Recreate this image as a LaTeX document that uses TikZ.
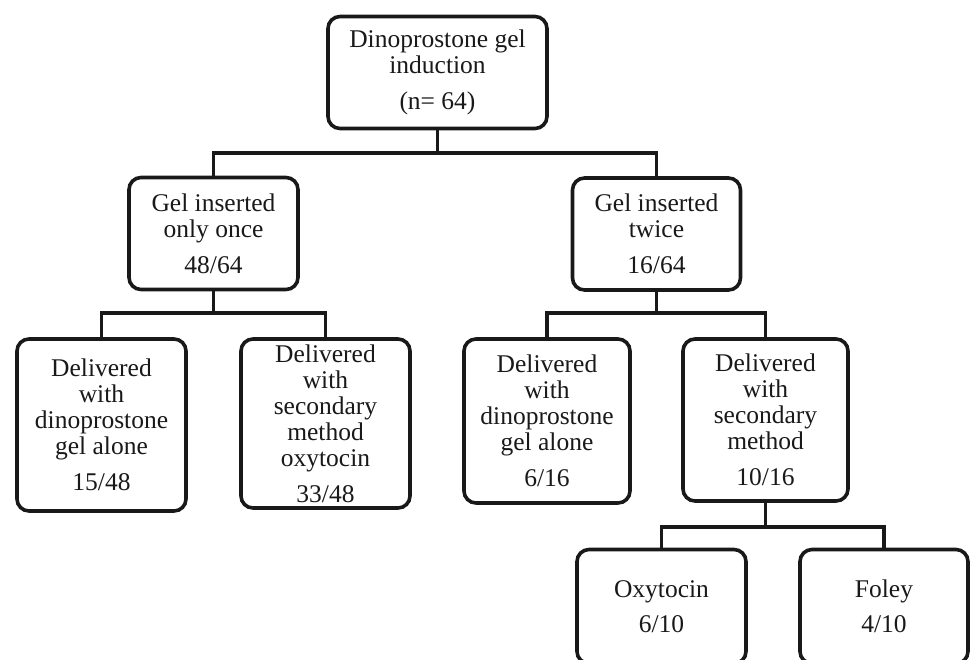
\documentclass[tikz,border=0pt]{standalone}
\usepackage{fontspec}
\setmainfont{Liberation Serif}
\begin{document}
\begin{tikzpicture}[x=1pt,y=-1pt,
  box/.style={draw=black!90, line width=3.6pt, rounded corners=12pt, align=center,
    inner sep=0pt, font=\fontsize{25.5}{26}\selectfont, text=black!90},
  conn/.style={draw=black!90, line width=3.2pt}]
\useasboundingbox (0,0) rectangle (975,659);
\clip (0,0) rectangle (975,659);
\node[box, minimum width=219pt, minimum height=112pt] (root) at (437.5,72.5)
  {Dinoprostone gel\\induction\\[10pt](n= 64)};
\node[box, minimum width=169pt, minimum height=112pt] (l1a) at (213.5,233.5)
  {Gel inserted\\only once\\[10pt]48/64};
\node[box, minimum width=168pt, minimum height=112pt] (l1b) at (656.5,234)
  {Gel inserted\\twice\\[10pt]16/64};
\node[box, minimum width=169pt, minimum height=172pt] (a) at (101.5,425)
  {Delivered\\with\\dinoprostone\\gel alone\\[10pt]15/48};
\node[box, minimum width=169pt, minimum height=169pt] (b) at (325.5,423.5)
  {Delivered\\with\\secondary\\method\\oxytocin\\[10pt]33/48};
\node[box, minimum width=166pt, minimum height=164pt] (c) at (547,421)
  {Delivered\\with\\dinoprostone\\gel alone\\[10pt]6/16};
\node[box, minimum width=165pt, minimum height=162pt] (d) at (765.5,420)
  {Delivered\\with\\secondary\\method\\[10pt]10/16};
\node[box, minimum width=169pt, minimum height=114pt] (e) at (661.5,606.5)
  {Oxytocin\\[9pt]6/10};
\node[box, minimum width=168pt, minimum height=114pt] (f) at (884,606.5)
  {Foley\\[9pt]4/10};
\coordinate (j1) at (437.5,153);
\coordinate (j2) at (213.5,313);
\coordinate (j3) at (656.5,313);
\coordinate (j4) at (765.5,527);
\draw[conn] (root.south) -- (j1);
\draw[conn] (l1a.north) |- (j1) -| (l1b.north);
\draw[conn] (l1a.south) -- (j2);
\draw[conn] (a.north) |- (j2) -| (b.north);
\draw[conn] (l1b.south) -- (j3);
\draw[conn] (c.north) |- (j3) -| (d.north);
\draw[conn] (d.south) -- (j4);
\draw[conn] (e.north) |- (j4) -| (f.north);
\end{tikzpicture}
\end{document}
